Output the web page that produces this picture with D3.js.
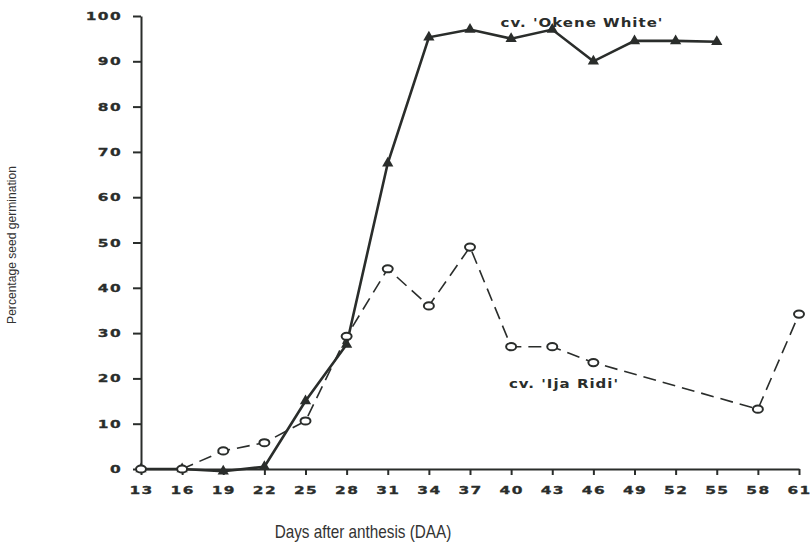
<!DOCTYPE html>
<html>
<head>
<meta charset="utf-8">
<script src="https://cdn.jsdelivr.net/npm/d3@7"></script>
<style>
  body { margin: 0; background: #fff; }
  svg { display: block; }
</style>
</head>
<body>
<script>
    'use strict';

    // days after anthesis
    var days = [13, 16, 19, 22, 25, 28, 31, 34, 37, 40, 43, 46, 49, 52, 55, 58, 61];
    var yTicks = [0, 10, 20, 30, 40, 50, 60, 70, 80, 90, 100];

    // cv. 'Okene White' (solid, filled triangles)
    var okeneDays = [13, 16, 19, 22, 25, 28, 31, 34, 37, 40, 43, 46, 49, 52, 55];
    var okeneVals = [0, 0, -0.5, 0.5, 15, 27.5, 67.5, 95.3, 97, 95, 97, 90, 94.5, 94.5, 94.3];

    // cv. 'Ija Ridi' (dashed, open circles)
    var ijaDays = [13, 16, 19, 22, 25, 28, 31, 34, 37, 40, 43, 46, 58, 61];
    var ijaVals = [0, 0, 4, 5.8, 10.6, 29.3, 44.2, 36, 49, 27, 27, 23.5, 13.2, 34.2];

    var width = 811, height = 543;
    var ink = '#2a2d2b';
    var wide = 1.4;   // the scanned tick font is much wider than it is tall

    var svg = d3.select('body')
        .append('svg')
        .attr('width', width)
        .attr('height', height);

    var x = d3.scalePoint()
        .domain(days)
        .range([141, 799]);

    var y = d3.scaleLinear()
        .domain([0, 100])
        .range([469, 16]);

    function zip(ds, vs) {
        return ds.map(function(d, i) { return {day: d, val: vs[i]}; });
    }
    var okene = zip(okeneDays, okeneVals);
    var ija = zip(ijaDays, ijaVals);

    // axes
    var yAxis = svg.append('g')
        .attr('transform', 'translate(' + x(days[0]) + ',0)')
        .call(d3.axisLeft(y).tickValues(yTicks).tickSize(8).tickPadding(11).tickSizeOuter(0));

    var xAxis = svg.append('g')
        .attr('transform', 'translate(0,' + y(0) + ')')
        .call(d3.axisBottom(x).tickSize(6).tickPadding(11).tickSizeOuter(0));

    [yAxis, xAxis].forEach(function(ax) {
        ax.select('.domain').attr('stroke', ink).attr('stroke-width', 2);
        ax.selectAll('.tick line').attr('stroke', ink).attr('stroke-width', 2);
        ax.selectAll('.tick text')
            .attr('fill', ink)
            .attr('stroke', ink)
            .attr('stroke-width', 0.3)
            .attr('transform', 'scale(' + wide + ',1)')
            .style('font', 'bold 11px "DejaVu Sans"')
            .style('letter-spacing', '1px');
    });
    yAxis.selectAll('.tick text').attr('x', -19 / wide);

    // lines
    var line = d3.line()
        .x(function(d) { return x(d.day); })
        .y(function(d) { return y(d.val); });

    svg.append('path')
        .datum(ija)
        .attr('d', line)
        .attr('fill', 'none')
        .attr('stroke', ink)
        .attr('stroke-width', 1.6)
        .attr('stroke-dasharray', '13,7');

    svg.append('path')
        .datum(okene)
        .attr('d', line)
        .attr('fill', 'none')
        .attr('stroke', ink)
        .attr('stroke-width', 2.6);

    // markers
    var tri = d3.symbol().type(d3.symbolTriangle).size(55);
    svg.selectAll('.tri')
        .data(okene)
        .enter()
        .append('path')
        .attr('class', 'tri')
        .attr('transform', function(d) { return 'translate(' + x(d.day) + ',' + y(d.val) + ')'; })
        .attr('d', tri)
        .attr('fill', ink);

    svg.selectAll('.circ')
        .data(ija)
        .enter()
        .append('ellipse')
        .attr('class', 'circ')
        .attr('cx', function(d) { return x(d.day); })
        .attr('cy', function(d) { return y(d.val); })
        .attr('rx', 5)
        .attr('ry', 3.6)
        .attr('fill', '#fff')
        .attr('stroke', ink)
        .attr('stroke-width', 2);

    // series labels
    function seriesLabel(cx, by, txt) {
        svg.append('text')
            .attr('transform', 'translate(' + cx + ',' + by + ') scale(1.25,1)')
            .attr('text-anchor', 'middle')
            .attr('fill', ink)
            .style('font', 'bold 12px "DejaVu Sans"')
            .style('letter-spacing', '0.8px')
            .text(txt);
    }
    seriesLabel(582, 27, "cv. 'Okene White'");
    seriesLabel(564, 388, "cv. 'Ija Ridi'");

    // axis titles, the original face is condensed
    svg.append('text')
        .attr('transform', 'translate(363,538) scale(0.85,1)')
        .attr('text-anchor', 'middle')
        .attr('fill', '#333')
        .style('font', '18px "Liberation Sans"')
        .text('Days after anthesis (DAA)');

    svg.append('text')
        .attr('transform', 'translate(16,245) rotate(-90) scale(0.93,1)')
        .attr('text-anchor', 'middle')
        .attr('fill', '#333')
        .style('font', '13px "Liberation Sans"')
        .text('Percentage seed germination');
</script>
</body>
</html>
